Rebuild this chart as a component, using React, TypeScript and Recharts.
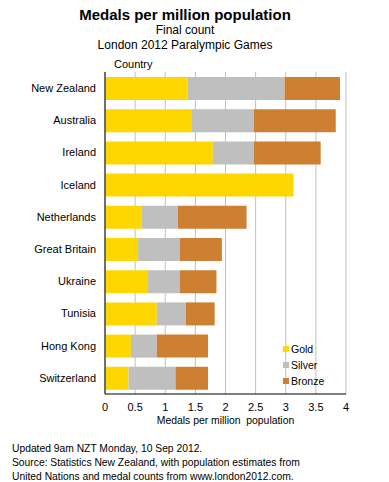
import React from "react";
import { BarChart, Bar, XAxis, YAxis, CartesianGrid } from "recharts";

const countries = ["New Zealand", "Australia", "Ireland", "Iceland", "Netherlands", "Great Britain", "Ukraine", "Tunisia", "Hong Kong", "Switzerland"];
const gold = [1.37, 1.43, 1.79, 3.13, 0.61, 0.55, 0.70, 0.86, 0.43, 0.39];
const silver = [1.61, 1.04, 0.68, 0, 0.60, 0.69, 0.54, 0.48, 0.43, 0.78];
const bronze = [0.92, 1.36, 1.11, 0, 1.14, 0.70, 0.61, 0.48, 0.85, 0.54];
const xTicks = [0, 0.5, 1, 1.5, 2, 2.5, 3, 3.5, 4];

const data = countries.map((c, i) => ({ country: c, Gold: gold[i], Silver: silver[i], Bronze: bronze[i] }));

const FONT = "'Liberation Sans', Arial, sans-serif";
const GOLD = "#ffd700";
const SILVER = "#bfbfbf";
const BRONZE = "#cd7f32";

const txt = (extra: React.CSSProperties): React.CSSProperties => ({
  position: "absolute",
  whiteSpace: "nowrap",
  fontFamily: FONT,
  color: "#000",
  lineHeight: 1,
  ...extra,
});

export default function App() {
  return (
    <div style={{ position: "absolute", left: 0, top: 0, width: 389, height: 482, background: "#fff", fontFamily: FONT }}>
      <BarChart
        width={389}
        height={482}
        data={data}
        layout="vertical"
        margin={{ top: 72, right: 43, bottom: 58, left: 5 }}
        barSize={23}
      >
        <CartesianGrid horizontal={false} vertical={true} stroke="#c0c0c0" strokeWidth={1} />
        <XAxis
          type="number"
          domain={[0, 4]}
          ticks={xTicks}
          allowDataOverflow
          tickLine={false}
          tickSize={0}
          tickMargin={9}
          axisLine={{ stroke: "#000", strokeWidth: 1 }}
          height={30}
          tick={{ fontSize: 11, fill: "#000", fontFamily: FONT }}
        />
        <YAxis
          type="category"
          dataKey="country"
          width={100}
          tickLine={false}
          tickSize={0}
          tickMargin={9}
          axisLine={{ stroke: "#000", strokeWidth: 1 }}
          tick={{ fontSize: 11, fill: "#000", fontFamily: FONT }}
          interval={0}
        />
        <Bar dataKey="Gold" stackId="a" fill={GOLD} isAnimationActive={false} />
        <Bar dataKey="Silver" stackId="a" fill={SILVER} isAnimationActive={false} />
        <Bar dataKey="Bronze" stackId="a" fill={BRONZE} isAnimationActive={false} />
      </BarChart>

      <div style={txt({ left: 0, width: 370, top: 7, textAlign: "center", fontSize: 15, fontWeight: "bold" })}>
        Medals per million population
      </div>
      <div style={txt({ left: 0, width: 370, top: 24, textAlign: "center", fontSize: 12 })}>Final count</div>
      <div style={txt({ left: 0, width: 370, top: 39, textAlign: "center", fontSize: 12 })}>London 2012 Paralympic Games</div>
      <div style={txt({ left: 114, top: 59, fontSize: 11 })}>Country</div>

      <div style={txt({ left: 105, width: 241, top: 416, textAlign: "center", fontSize: 10.4 })}>Medals per million&nbsp; population</div>

      {[
        ["Gold", GOLD, 344],
        ["Silver", SILVER, 360],
        ["Bronze", BRONZE, 376],
      ].map(([name, color, top]) => (
        <div key={name as string} style={{ position: "absolute", left: 283, top: top as number, display: "flex", alignItems: "center" }}>
          <div style={{ width: 6, height: 6, background: color as string, marginRight: 2 }} />
          <span style={{ fontFamily: FONT, fontSize: 10.5, lineHeight: 1 }}>{name as string}</span>
        </div>
      ))}

      <div style={txt({ left: 12, top: 442, fontSize: 10.3, lineHeight: "14px" })}>
        Updated 9am NZT Monday, 10 Sep 2012.
        <br />
        Source: Statistics New Zealand, with population estimates from
        <br />
        United Nations and medal counts from www.london2012.com.
      </div>
    </div>
  );
}
